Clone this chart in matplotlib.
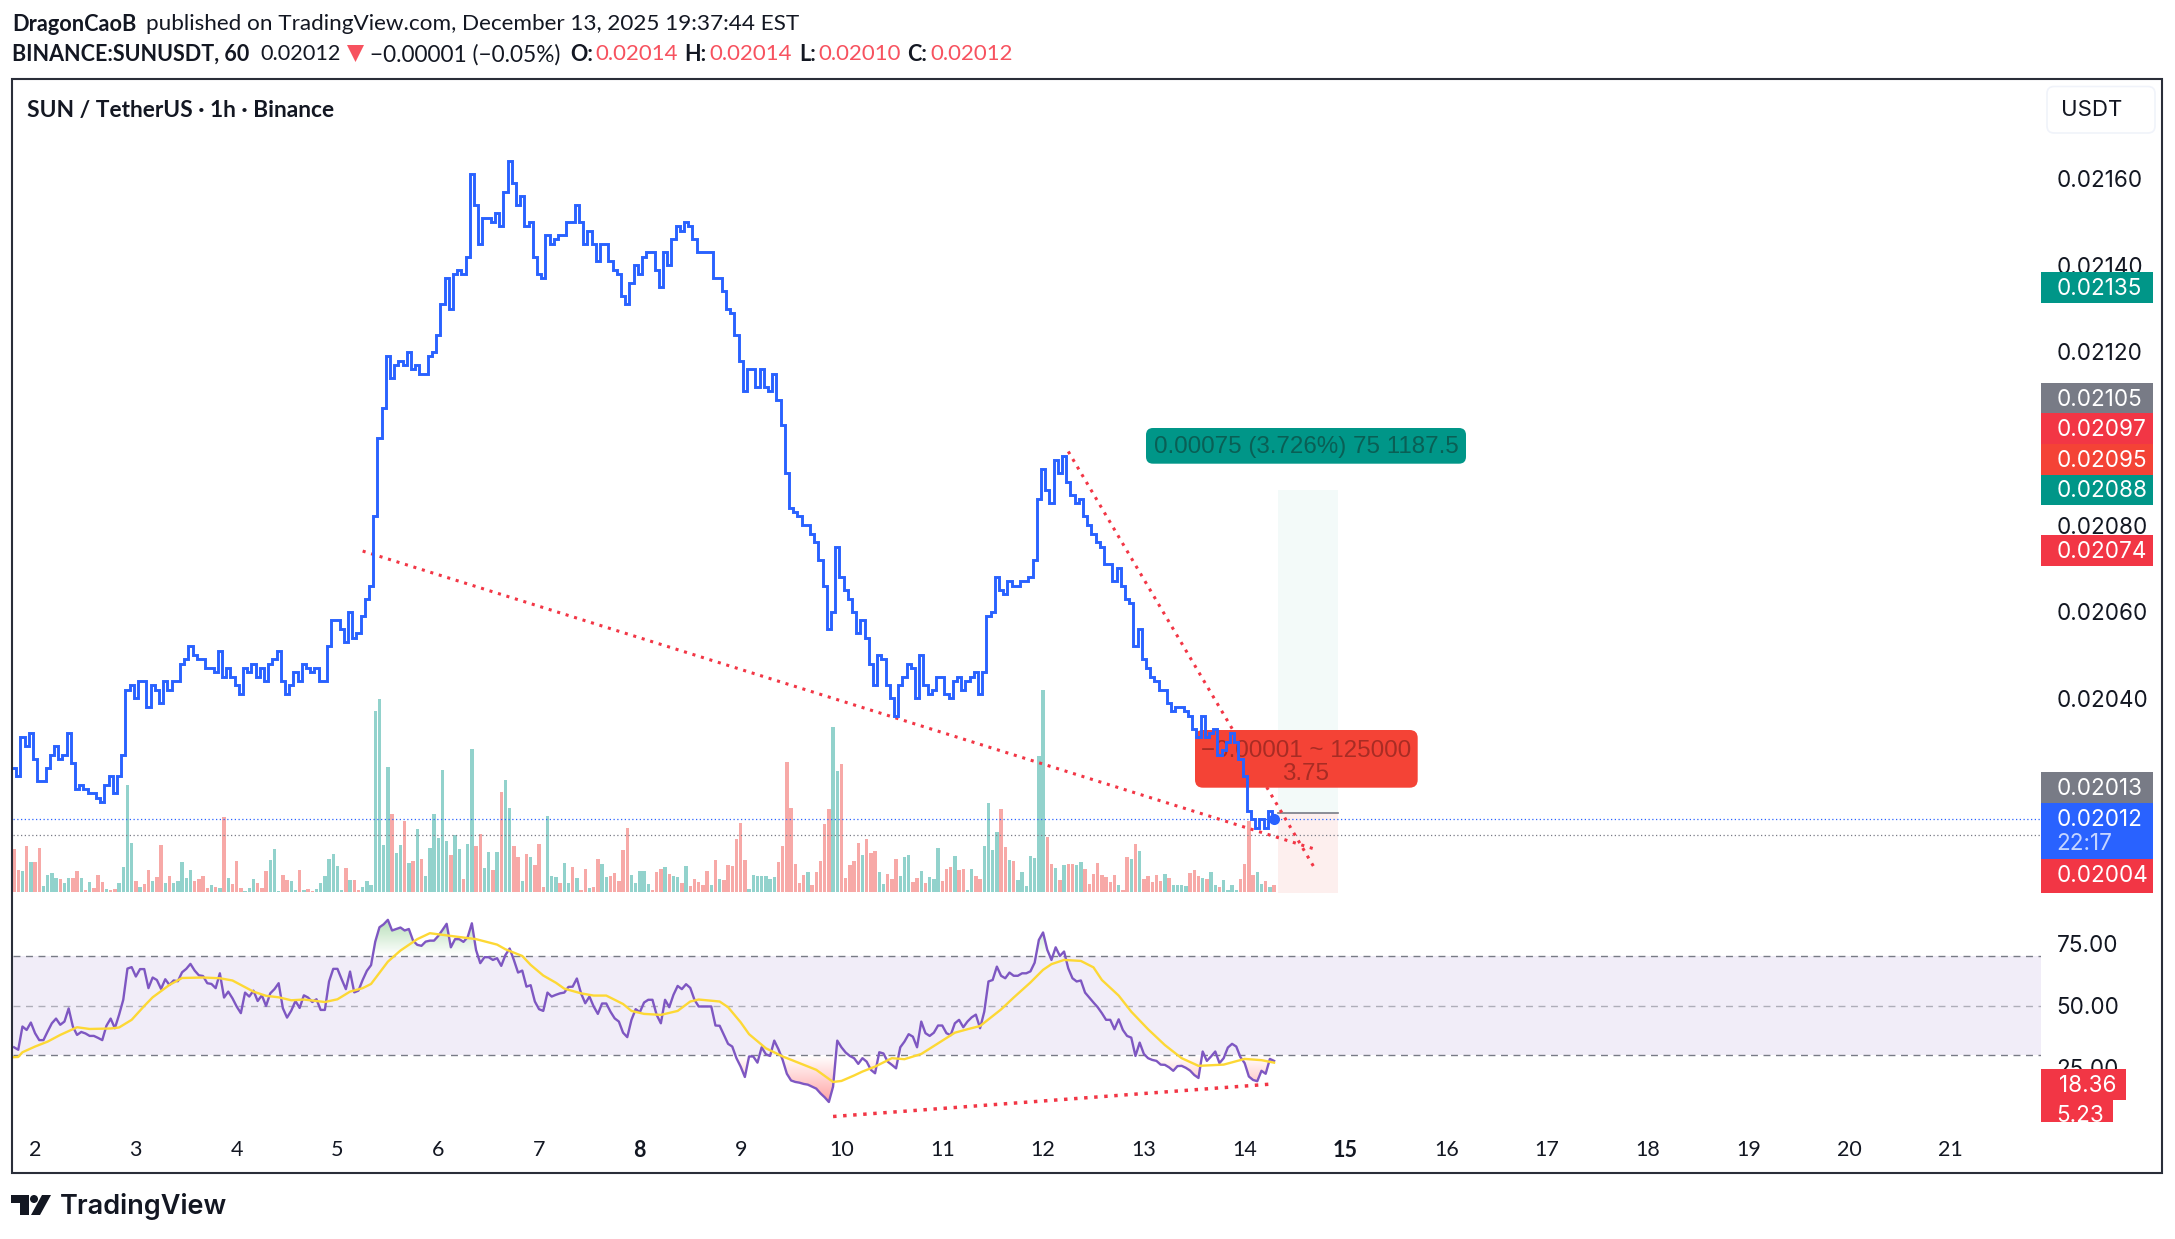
import numpy as np
import matplotlib
matplotlib.use("Agg")
import matplotlib.pyplot as plt
from matplotlib.patches import FancyBboxPatch, Polygon, Rectangle, Circle
from matplotlib.path import Path
from matplotlib.transforms import Affine2D

W, H = 2175, 1239

# hourly closes in units of 0.00001, first bar is Dec 1 19:00
close_ticks = [
    2024,2022,2031,2029,2032,2026,2021,2021,2024,2027,
    2029,2026,2027,2032,2025,2019,2020,2019,2018,2018,
    2017,2016,2020,2022,2018,2022,2027,2042,2043,2040,
    2044,2044,2038,2043,2042,2039,2044,2042,2044,2044,
    2048,2049,2052,2050,2049,2049,2047,2047,2046,2051,
    2045,2047,2045,2043,2041,2047,2046,2048,2045,2047,
    2044,2048,2049,2051,2044,2041,2043,2046,2044,2048,
    2047,2046,2047,2044,2044,2052,2058,2058,2056,2053,
    2060,2054,2055,2059,2063,2066,2082,2100,2107,2119,
    2114,2117,2118,2117,2120,2116,2117,2115,2115,2119,
    2120,2124,2131,2137,2130,2138,2139,2138,2142,2161,
    2154,2145,2151,2151,2150,2152,2149,2157,2164,2159,
    2154,2156,2149,2150,2142,2138,2137,2147,2145,2146,
    2147,2147,2150,2150,2154,2150,2145,2148,2145,2141,
    2145,2145,2141,2139,2138,2133,2131,2136,2140,2138,
    2142,2143,2143,2139,2135,2143,2140,2146,2149,2148,
    2150,2149,2146,2143,2143,2143,2143,2137,2137,2134,
    2130,2129,2124,2118,2111,2116,2116,2112,2116,2112,
    2111,2115,2109,2103,2092,2084,2083,2082,2080,2080,
    2078,2076,2072,2066,2056,2060,2075,2068,2065,2063,
    2060,2055,2058,2054,2048,2043,2050,2049,2043,2040,
    2036,2043,2045,2048,2047,2040,2050,2043,2041,2042,
    2045,2045,2041,2040,2044,2045,2042,2044,2045,2046,
    2041,2046,2059,2060,2068,2065,2064,2067,2066,2066,
    2067,2067,2068,2072,2086,2093,2088,2085,2095,2092,
    2096,2090,2087,2085,2086,2082,2080,2078,2076,2075,
    2071,2071,2067,2070,2066,2063,2062,2052,2056,2049,
    2047,2045,2044,2042,2042,2039,2037,2038,2038,2037,
    2036,2033,2031,2036,2031,2032,2033,2027,2028,2030,
    2032,2030,2026,2022,2014,2012,2010,2012,2010,2014,
    2012,
]

volume = [
    43,22,21,46,30,30,44,6,17,19,
    14,13,9,14,14,21,14,2,10,4,
    17,10,3,2,3,9,25,107,49,11,
    5,8,22,11,15,47,9,16,9,11,
    30,14,22,11,13,16,4,7,5,4,
    75,14,8,31,4,1,4,13,9,4,
    21,32,43,1,17,12,11,2,22,2,
    3,1,3,9,16,33,38,26,2,24,
    12,12,2,5,11,7,181,193,47,125,
    78,39,47,71,29,31,63,33,16,44,
    78,54,122,51,37,57,43,13,48,143,
    46,58,24,40,22,40,100,112,84,46,
    35,11,38,35,27,48,5,76,16,15,
    9,29,9,25,14,2,23,4,5,33,
    28,15,16,19,11,42,64,17,9,21,
    21,8,2,20,23,25,18,16,15,9,
    26,6,13,10,
    7,21,7,32,13,12,27,26,53,69,
    32,3,17,16,16,16,13,15,30,46,
    130,84,28,9,17,20,7,20,31,68,
    83,165,121,128,14,27,31,49,37,53,
    39,41,20,8,18,13,33,16,35,37,
    10,14,21,9,15,13,44,11,23,25,
    36,22,23,2,23,16,13,46,89,42,
    60,83,45,32,31,12,20,6,36,34,
    136,202,55,28,24,12,27,28,28,27,
    30,23,8,18,29,17,15,10,17,7,
    2,35,33,48,41,13,16,10,17,11,
    18,14,7,7,7,6,19,22,16,14,
    13,20,7,5,12,2,7,2,13,28,
    71,17,20,8,11,5,7,
]

# r = down bar, g = up bar
volume_dir = (
    "rrgrgrrggg" "grggrrgrgr" "rrgrrggggr" "grrgrrgrgg" "gggrrrrgrg"
    "rgrrrgggrr" "rgggrrggrg" "rrgggggggr" "grrggggggg" "rggrgrgrgg"
    "ggggrggrgg" "rrggrgrggr" "rgrgrrrggg" "rggrgrrgrr" "ggrrrrrggg"
    "ggrrrgrggr" "grrr"
    "rrgrgrrrrr" "rgggggggrr" "rrrrrgrrrr" "rggrrrrrgr" "rrggrrrggg"
    "rrgrgggrrr" "grrggrrggg" "grrgrggggg" "ggrrgrgrrg" "grrrrrrrrg"
    "rrgrgrrrrr" "grggggrrrg" "rggrggggrr" "rrggrgr"
)

rsi = [
    33.2,32.2,41.6,40.2,43.2,38.9,36.1,36.1,39.6,42.9,
    44.8,42.3,43.6,48.9,41.6,38.2,39.4,38.8,37.8,37.8,
    37.0,36.1,41.9,44.8,40.9,46.3,52.4,65.0,65.6,61.8,
    64.8,64.8,57.1,61.4,60.4,56.8,60.7,58.4,60.2,59.9,
    63.5,64.9,66.9,64.2,62.3,62.0,59.1,58.8,57.1,63.1,
    53.3,55.7,53.0,49.7,47.0,55.3,53.7,56.1,51.9,54.2,
    49.9,55.0,56.7,59.1,49.0,45.2,48.0,51.9,49.1,54.2,
    53.3,51.5,52.6,48.3,48.3,59.8,64.9,64.9,60.7,56.7,
    63.8,55.4,56.1,60.4,64.1,66.4,75.9,81.7,82.9,84.7,
    80.4,81.0,81.6,80.4,81.0,76.3,74.6,74.2,75.9,76.3,
    76.3,78.2,80.6,83.1,73.6,76.9,76.9,75.8,77.7,83.3,
    72.5,67.2,69.6,69.6,68.5,69.2,66.1,70.5,73.1,68.5,
    63.4,64.2,57.7,58.3,51.7,48.6,47.9,55.3,53.7,54.4,
    55.0,55.3,57.6,57.7,61.0,55.0,51.0,53.7,49.7,46.7,
    50.9,50.9,47.6,44.9,43.6,39.1,37.3,44.3,48.6,47.4,
    51.3,52.4,52.4,46.3,42.9,52.4,49.4,54.4,58.0,56.7,
    58.7,57.2,52.4,49.7,49.7,49.7,49.7,42.0,41.9,38.2,
    34.6,33.5,28.8,25.4,21.2,29.5,29.5,27.0,33.2,30.4,
    29.7,35.9,32.4,28.1,22.5,19.8,19.2,18.9,18.4,18.1,
    17.3,16.5,14.6,13.0,11.1,17.3,35.9,33.2,31.1,29.7,
    28.8,26.5,28.8,27.4,24.1,22.7,31.2,30.7,27.4,26.1,
    24.7,33.2,35.5,38.5,37.5,33.2,43.6,38.9,37.8,39.1,
    42.0,42.0,38.9,38.1,42.9,44.3,41.3,43.6,45.3,46.4,
    40.9,47.6,59.8,60.4,65.8,62.1,61.1,63.4,62.1,62.1,
    63.1,63.1,63.9,67.4,76.6,79.6,72.6,68.5,73.6,70.1,
    71.9,65.1,61.1,59.8,60.2,55.3,53.3,51.3,49.4,47.0,
    44.3,44.3,40.5,44.5,40.2,37.8,37.1,29.7,35.1,30.5,
    28.8,28.1,27.7,26.2,26.1,25.1,23.7,25.6,25.7,24.9,
    23.8,22.0,20.8,31.5,27.7,29.5,31.5,26.8,28.8,33.1,
    34.6,33.5,29.2,26.8,21.4,20.0,19.5,23.7,22.5,28.5,
    27.7,
]

# rsi moving average, read at these bars
ma_bars = [0,1,2,5,8,11,15,18,23,25,28,31,33,37,40,45,49,52,54,57,60,63,66,69,74,77,80,83,85,
           89,92,96,99,104,110,115,117,121,123,126,129,131,135,138,141,145,147,150,154,158,161,
           163,168,170,173,175,179,183,187,191,195,197,200,202,205,209,212,216,220,224,227,230,
           235,238,242,245,247,250,254,257,259,263,266,270,274,278,282,288,293,297,300]
ma_values = [29.2,29.3,31.2,33.5,35.5,38.2,41.3,40.6,40.8,41.2,44.3,49.9,53.4,58.4,61.2,61.4,61.1,
             60.2,58.4,55.7,54.0,53.4,52.2,52.5,51.5,52.6,55.7,57.1,58.8,67.8,72.3,76.9,79.3,78.2,
             76.9,74.7,72.8,70.1,66.5,62.2,59.3,56.9,55.0,54.1,54.1,50.7,47.9,46.7,46.3,47.9,51.7,
             52.5,51.7,49.4,43.3,38.5,32.8,29.5,26.8,24.1,19.2,19.6,21.8,23.4,25.4,28.8,28.4,30.5,
             34.8,39.1,40.5,41.8,48.5,53.3,59.4,64.5,66.8,68.5,68.1,65.5,60.4,54.1,47.6,40.5,34.1,
             28.8,25.7,26.2,28.5,28.0,27.0]

# 0.02000, 0.02020 and 0.02100 sit fully under the price tags, so they are left out
price_ticks = [0.0204,0.0206,0.0208,0.0212,0.0214,0.0216]
day_labels = list(range(2, 22))
bold_days = [8, 15]
rsi_ticks = [25, 50, 75]

# trend lines as (bar, price) and (bar, rsi)
trend_low_bars, trend_low_prices = [83, 310.2], [0.02074, 0.02005]
trend_high_bars, trend_high_prices = [251, 309.5], [0.02097, 0.02001]
trend_rsi_bars, trend_rsi_values = [195, 299.5], [5.23, 18.36]

last_price = 0.02012
mid_price = 0.020083
entry_price = 0.020135
target_price = 0.02088
stop_price = 0.01995
position_bars = [301, 315.3]

BLUE = "#2962ff"
RED = "#f23645"
TEAL2 = "#009688"
ORANGE = "#f44336"
GREY = "#787b86"
INK = "#131722"

fig = plt.figure(figsize=(W/100, H/100), dpi=100, facecolor="white")
px = Affine2D().scale(1, -1).translate(0, H)


def pane(top, bottom, z):
    ax = fig.add_axes([13/W, 1-bottom/H, (2041-13)/W, (bottom-top)/H], zorder=z)
    ax.patch.set_visible(False)
    for s in ax.spines.values():
        s.set_visible(False)
    ax.set_xlim(-0.25, 482.6)
    ax.tick_params(length=0)
    ax.set_xticks([])
    ax.set_yticks([])
    return ax


def say(x, y, s, size=16, color=INK, weight="normal", family="Lato", ha="left", z=12):
    return fig.text(x, y, s, transform=px, fontsize=size, color=color, fontweight=weight,
                    family=family, ha=ha, va="center", zorder=z)


def price_tag(y0, y1, color, text, x1=2152.7, tx=2056.7, ty=None):
    fig.add_artist(Rectangle((2041, y0), x1-2041, y1-y0, transform=px, facecolor=color,
                             edgecolor="none", zorder=10))
    return say(tx, ((y0+y1)/2 if ty is None else ty) + 1.5, text, size=16.2, color="white", family="Inter")


# volume
ax_vol = pane(80, 892, 0)
bars = np.arange(len(close_ticks))
vol_colors = ["#f7a9a7" if c == "r" else "#92d2cc" for c in volume_dir]
ax_vol.bar(bars, volume, width=0.82, color=vol_colors, linewidth=0)
ax_vol.set_ylim(0, 812)

# price
ax = pane(80, 900, 1)
close = np.array(close_ticks) * 1e-5
ax.set_ylim(0.019934, 0.021828)
ax.fill_between(position_bars, entry_price, target_price, color="#f3faf9", linewidth=0, zorder=1)
ax.fill_between(position_bars, stop_price, entry_price, color="#fdefee", linewidth=0, zorder=1)
ax.plot(position_bars, [entry_price, entry_price], color=GREY, lw=1.2, zorder=2)
ax.axhline(last_price, color=BLUE, lw=0.9, ls=(0, (1, 2)), zorder=2)
ax.axhline(mid_price, color=GREY, lw=0.9, ls=(0, (1, 2)), zorder=2)
dots = dict(color=RED, lw=2.2, ls=(0, (1, 1.9)), dash_capstyle="butt", zorder=3)
ax.plot(trend_low_bars, trend_low_prices, **dots)
ax.plot(trend_high_bars, trend_high_prices, **dots)

ax.add_patch(FancyBboxPatch((1146, 428), 320, 35.7, boxstyle="round,pad=0,rounding_size=7", transform=px,
                            facecolor=TEAL2, edgecolor="none", clip_on=False, zorder=4))
ax.add_patch(FancyBboxPatch((1195, 730), 222.7, 57.7, boxstyle="round,pad=0,rounding_size=8", transform=px,
                            facecolor=ORANGE, edgecolor="none", clip_on=False, zorder=4))
box_font = dict(transform=px, fontsize=17.4, family="Liberation Sans", ha="center", va="center",
                clip_on=False, zorder=4.5)
ax.text(1306, 447, "0.00075 (3.726%) 75 1187.5", color="#0a5f55", **box_font)
ax.text(1306, 751, "−0.00001 ~ 125000", color="#a82c24", **box_font)
ax.text(1306, 774, "3.75", color="#a82c24", **box_font)

ax.plot(bars, close, color=BLUE, lw=2.1, drawstyle="steps-mid", solid_joinstyle="miter", zorder=5)
ax.plot(bars[-1], last_price, "o", color=BLUE, ms=8, mew=0, zorder=6)

ax.yaxis.tick_right()
ax.set_yticks(price_ticks)
ax.set_yticklabels(["%.5f" % p for p in price_ticks], family="Inter", fontsize=16.2, color=INK)
ax.tick_params(axis="y", pad=11.3, length=0)

# rsi
ax_rsi = pane(905, 1125, 1)
ax_rsi.set_ylim(1.8, 90.7)
rsi_a = np.array(rsi)
ax_rsi.axhspan(30, 70, color="#7e57c2", alpha=0.1, linewidth=0, zorder=1)
ax_rsi.axhline(70, color=GREY, lw=1, ls=(0, (5, 4)), zorder=2)
ax_rsi.axhline(50, color=GREY, lw=1, ls=(0, (5, 4)), alpha=0.55, zorder=2)
ax_rsi.axhline(30, color=GREY, lw=1, ls=(0, (5, 4)), zorder=2)

# gradient fills, clipped to the area outside of the band
for level, far, where, rgb, peak in [(70, 90, rsi_a > 70, (0.30, 0.69, 0.31), 0.55),
                                     (30, 8, rsi_a < 30, (1.0, 0.32, 0.32), 0.62)]:
    shape = ax_rsi.fill_between(bars, rsi_a, level, where=where, interpolate=True, facecolor="none", linewidth=0)
    grad = np.zeros((64, 2, 4))
    grad[..., :3] = rgb
    grad[..., 3] = np.linspace(0, peak, 64)[:, None]
    img = ax_rsi.imshow(grad, origin="lower", aspect="auto", extent=(0, 301, level, far), zorder=2.5)
    img.set_clip_path(Path.make_compound_path(*shape.get_paths()), transform=ax_rsi.transData)
ax_rsi.set_xlim(-0.25, 482.6)
ax_rsi.set_ylim(1.8, 90.7)

ax_rsi.plot(bars, rsi_a, color="#7e57c2", lw=1.7, zorder=4)
ax_rsi.plot(ma_bars, ma_values, color="#fdd835", lw=1.7, zorder=5)
ax_rsi.plot(trend_rsi_bars, trend_rsi_values, color=RED, lw=2.5, ls=(0, (1, 1.9)), dash_capstyle="butt", zorder=3)

ax_rsi.yaxis.tick_right()
ax_rsi.set_yticks(rsi_ticks)
ax_rsi.set_yticklabels(["%.2f" % v for v in rsi_ticks], family="Inter", fontsize=16.2, color=INK)
ax_rsi.tick_params(axis="y", pad=11.3, length=0)

# day 2 starts at bar 5, one day is 24 bars
ax_rsi.set_xticks([5 + 24*(d-2) for d in day_labels])
ax_rsi.set_xticklabels([str(d) for d in day_labels], family="Lato", fontsize=15.5, color=INK)
for tick, d in zip(ax_rsi.get_xticklabels(), day_labels):
    if d in bold_days:
        tick.set_fontweight("bold")
ax_rsi.tick_params(axis="x", pad=10.5, length=0)

# frame
fig.add_artist(Rectangle((12, 78.6), 2150.3, 1094.1, transform=px, facecolor="none",
                         edgecolor="#2a2e39", lw=1.5, zorder=9))

# header
say(12, 24.5, "DragonCaoB", size=15.7, weight="bold")
say(146, 24.5, "published on TradingView.com, December 13, 2025 19:37:44 EST", size=16.2)
say(12, 54.5, "BINANCE:SUNUSDT, 60", size=15.5, weight="bold")
say(260, 54.5, "0.02012", size=15.6)
fig.add_artist(Polygon([(347, 45), (364, 45), (355.5, 62)], transform=px, facecolor="#f7525f",
                       edgecolor="none", zorder=12))
say(370, 54.5, "−0.00001 (−0.05%)", size=16.3)
for x_key, key, x_val, val in [(570, "O:", 595, "0.02014"), (684, "H:", 709, "0.02014"),
                               (799, "L:", 818, "0.02010"), (907, "C:", 930, "0.02012")]:
    say(x_key, 54.5, key, size=15.5, weight="bold")
    say(x_val, 54.5, val, color="#f7525f", size=16)
say(27, 110, "SUN / TetherUS · 1h · Binance", size=16.4, weight="bold")

# price scale
fig.add_artist(FancyBboxPatch((2047, 86.5), 108, 46.5, boxstyle="round,pad=0,rounding_size=7", transform=px,
                              facecolor="white", edgecolor="#f0f3fa", lw=1.2, zorder=10))
say(2092, 110, "USDT", size=16, family="Inter", ha="center", color="#131722")
price_tag(272.4, 303.4, TEAL2, "0.02135")
price_tag(383.4, 413.4, GREY, "0.02105")
price_tag(413.4, 444, RED, "0.02097")
price_tag(444, 474.5, ORANGE, "0.02095")
price_tag(474.5, 505, TEAL2, "0.02088")
price_tag(534.5, 565.5, RED, "0.02074")
price_tag(772, 803, GREY, "0.02013")
price_tag(803, 858.7, BLUE, "0.02012", ty=818)
say(2056.7, 844.5, "22:17", size=16.2, color="#c6d5ff", family="Inter")
price_tag(858.7, 892.7, RED, "0.02004", ty=874)
price_tag(1069, 1100, RED, "18.36", x1=2125.7, tx=2058.5)
tag = price_tag(1100, 1121.7, RED, "5.23", x1=2113, ty=1115)
tag.set_clip_path(Rectangle((2041, 1100), 72, 21.7, transform=px))

# logo
logo = "#131722"
fig.add_artist(Polygon([(11, 1195), (29, 1195), (29, 1215), (20, 1215), (20, 1203), (11, 1203)],
                       transform=px, facecolor=logo, edgecolor="none", zorder=12))
fig.add_artist(Circle((34, 1199), 4, transform=px, facecolor=logo, edgecolor="none", zorder=12))
fig.add_artist(Polygon([(42, 1195), (51, 1195), (40, 1215), (31, 1215)],
                       transform=px, facecolor=logo, edgecolor="none", zorder=12))
say(60, 1206, "TradingView", size=19.5, weight="semibold", family="Inter", color=logo)

fig.savefig("out.png", dpi=100, facecolor="white")
